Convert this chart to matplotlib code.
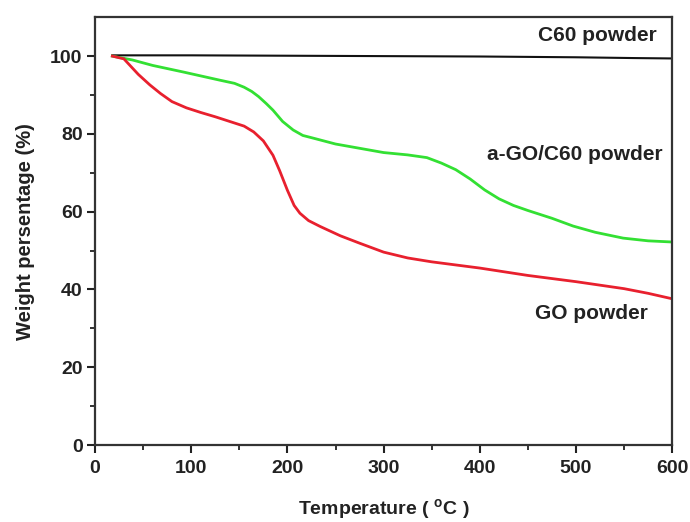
import matplotlib
matplotlib.use("Agg")
import matplotlib.pyplot as plt

plt.rcParams['font.family'] = ['Liberation Sans', 'DejaVu Sans']
plt.rcParams['font.weight'] = 'bold'

c60_T = [18, 100, 200, 300, 400, 500, 560, 600]
c60_W = [100.2, 100.2, 100.1, 100.0, 99.9, 99.7, 99.5, 99.4]

ago_T = [18, 39, 60, 92, 130, 145, 155, 163, 170, 178, 185, 195, 206, 216, 227, 250, 275, 300,
         325, 345, 360, 375, 390, 405, 420, 435, 450, 475, 497, 520, 549, 575, 600]
ago_W = [100, 99.0, 97.6, 95.9, 93.8, 93.0, 92.0, 90.9, 89.6, 87.8, 86.1, 83.2, 81.0, 79.6, 78.9, 77.4, 76.3, 75.2,
         74.6, 73.9, 72.5, 70.8, 68.4, 65.6, 63.3, 61.6, 60.3, 58.3, 56.3, 54.7, 53.2, 52.5, 52.2]

go_T = [18, 30, 45, 57, 68, 80, 95, 110, 125, 140, 155, 165, 175, 185, 192, 200, 207, 213, 222, 234,
        255, 275, 300, 325, 350, 400, 450, 500, 550, 575, 600]
go_W = [100, 99.3, 95.3, 92.6, 90.4, 88.3, 86.7, 85.5, 84.4, 83.2, 82.0, 80.5, 78.2, 74.5, 70.5, 65.5, 61.6, 59.6, 57.7, 56.2,
        53.8, 51.9, 49.6, 48.1, 47.1, 45.5, 43.6, 42.0, 40.2, 39.0, 37.6]

fig = plt.figure(figsize=(6.9, 5.22), dpi=100)
ax = fig.add_axes([0.1377, 0.1475, 0.8365, 0.8195])

ax.plot(c60_T, c60_W, color='#111111', lw=1.5)
ax.plot(ago_T, ago_W, color='#33e033', lw=2)
ax.plot(go_T, go_W, color='#e8202e', lw=2)

ax.set_xlim(0, 600)
ax.set_ylim(0, 110)
ax.set_xticks([0, 100, 200, 300, 400, 500, 600])
ax.set_xticks([50, 150, 250, 350, 450, 550], minor=True)
ax.set_yticks([0, 20, 40, 60, 80, 100])
ax.set_yticks([10, 30, 50, 70, 90], minor=True)
ax.tick_params(which='major', direction='out', length=6, width=1.5, labelsize=14, colors='#222222')
ax.tick_params(axis='x', which='major', pad=5)
ax.tick_params(axis='y', which='major', pad=3)
ax.tick_params(which='minor', direction='out', length=3.5, width=1.3, colors='#222222')
for lab in ax.get_xticklabels() + ax.get_yticklabels():
    lab.set_fontweight('bold')
for s in ax.spines.values():
    s.set_linewidth(1.6)
    s.set_color('#333333')

ax.set_xlabel(r'Temperature ( $^{\mathregular{o}}$C )', fontsize=14, fontweight='bold', color='#222222')
ax.set_ylabel('Weight persentage (%)', fontsize=14.5, fontweight='bold', color='#222222')
ax.xaxis.label.set_va('center')
ax.xaxis.set_label_coords(0.5, -0.152)
ax.yaxis.label.set_va('center')
ax.yaxis.set_label_coords(-0.121, 0.5)

ax.text(584, 105.4, 'C60 powder', ha='right', va='center', fontsize=15, fontweight='bold', color='#222222')
ax.text(590.5, 74.6, 'a-GO/C60 powder', ha='right', va='center', fontsize=15, fontweight='bold', color='#222222')
ax.text(575, 33.9, 'GO powder', ha='right', va='center', fontsize=15, fontweight='bold', color='#222222')

fig.savefig('out.png', dpi=100)
